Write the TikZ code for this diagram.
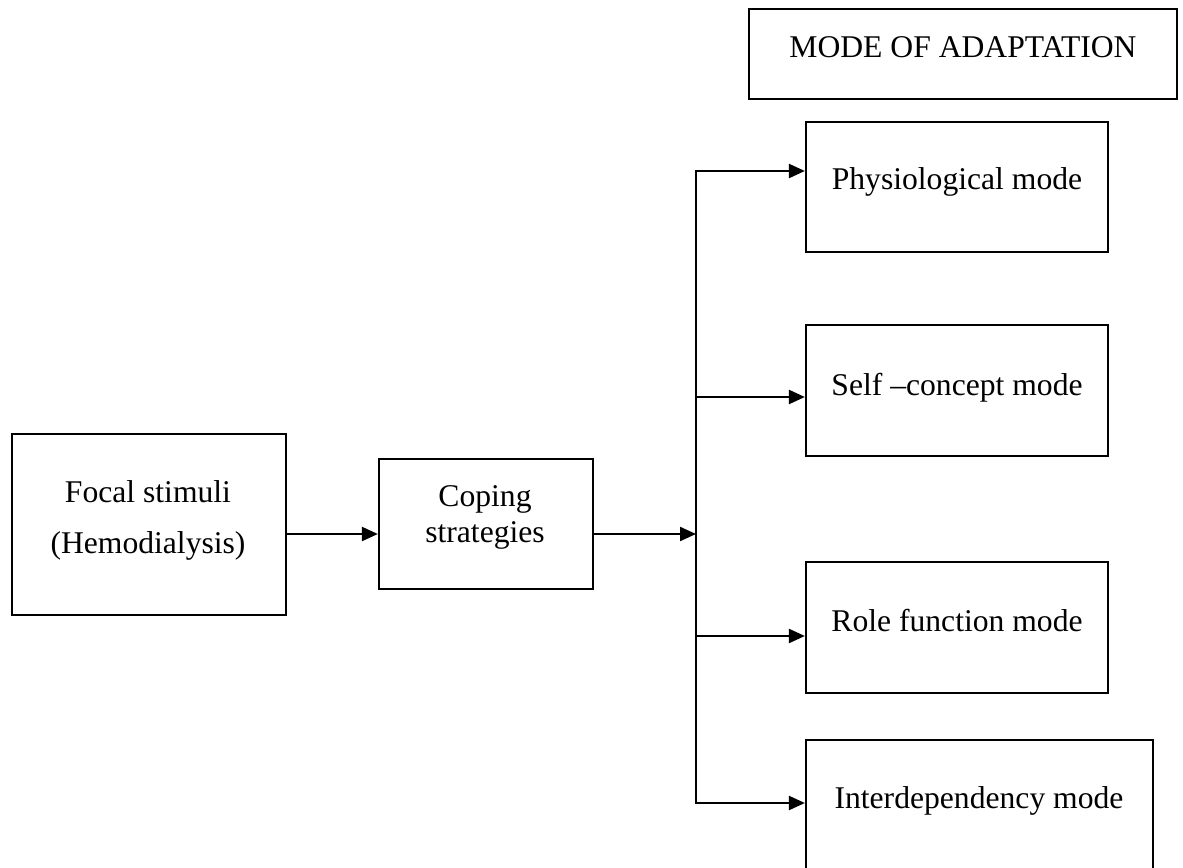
\documentclass[tikz,border=0pt]{standalone}
\usepackage{fontspec}
\setmainfont{Liberation Serif}
\usetikzlibrary{arrows.meta}

\begin{document}
\begin{tikzpicture}[x=0.02cm, y=-0.02cm, font=\fontsize{18}{20}\selectfont,
    box/.style={draw, line width=1.3pt, inner sep=0pt},
    txt/.style={anchor=base, align=center, inner sep=0pt},
    link/.style={line width=1.3pt, -{Triangle[length=0.32cm, width=0.28cm]}}]
  \useasboundingbox (0,0) rectangle (1183,868);
  \clip (0,0) rectangle (1183,868);
  % boxes
  \node[box, minimum width=5.48cm, minimum height=3.62cm] (focal) at (149,524.5) {};
  \node[box, minimum width=4.28cm, minimum height=2.6cm] (coping) at (486,524) {};
  \node[box, minimum width=8.56cm, minimum height=1.8cm] (mode) at (963,54) {};
  \node[box, minimum width=6.04cm, minimum height=2.6cm] (phys) at (957,187) {};
  \node[box, minimum width=6.04cm, minimum height=2.62cm] (self) at (957,390.5) {};
  \node[box, minimum width=6.04cm, minimum height=2.62cm] (role) at (957,627.5) {};
  \node[box, minimum width=6.94cm, minimum height=3.6cm] (inter) at (979.5,830) {};
  % texts (base = last line)
  \node[txt] (focalT) at (148,553) {Focal stimuli\\[9pt](Hemodialysis)};
  \node[txt] (copingT) at (485,542) {Coping\\strategies};
  \node[txt] (modeT) at (963,58) {MODE OF ADAPTATION};
  \node[txt] (physT) at (957,190) {Physiological mode};
  \node[txt] (selfT) at (957,395) {Self –concept mode};
  \node[txt] (roleT) at (957,631) {Role function mode};
  \node[txt] (interT) at (979,808) {Interdependency mode};
  % connectors
  \coordinate (hub) at (696,534);
  \draw[link] (focal.east |- hub) -- (coping.west |- hub);
  \draw[link] (coping.east |- hub) -- (hub);
  \foreach \b/\y in {phys/171, self/397, role/636, inter/803}
    \coordinate (j\b) at (696,\y);
  \draw[line width=1.3pt, line cap=rect] (jphys) -- (jinter);
  \foreach \b in {phys, self, role, inter}
    \draw[link] (j\b) -- (\b.west |- j\b);
\end{tikzpicture}
\end{document}
